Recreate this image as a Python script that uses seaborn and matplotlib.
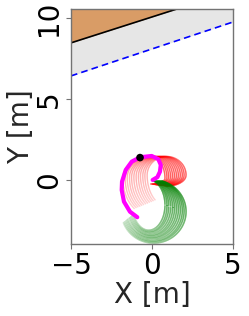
import numpy as np
import matplotlib
matplotlib.use("Agg")
import matplotlib.pyplot as plt
import seaborn as sns
import pandas as pd
from matplotlib.collections import LineCollection

# road boundaries (x at left / right edge of the plot)
edge_x = [-5.0, 5.0]
road_edge_y = [8.46, 11.66]
lane_line_y = [6.42, 9.75]

# executed path (magenta)
path_x = [0.04, 0.33, 0.49, 0.54, 0.39, -0.02, -0.74, -1.25, -1.62, -1.85, -1.87, -1.73, -1.36, -0.91]
path_y = [0.0, 0.17, 0.51, 0.93, 1.28, 1.48, 1.40, 1.13, 0.62, -0.10, -0.62, -1.34, -1.96, -2.30]
vehicle_x = [-0.74]
vehicle_y = [1.38]

# sampled trajectories turning one way (red) - quarter-ellipse parameters
red_cx = [-0.10, -0.01, 0.08, 0.17, 0.26, 0.35, 0.45, 0.54, 0.63, 0.72, 0.81, 0.90]
red_cy = [0.10, 0.12, 0.14, 0.15, 0.17, 0.19, 0.21, 0.23, 0.25, 0.26, 0.28, 0.30]
red_aL = [1.70, 1.65, 1.61, 1.56, 1.52, 1.47, 1.43, 1.38, 1.34, 1.29, 1.25, 1.20]
red_aR = [0.90, 0.93, 0.95, 0.98, 1.01, 1.04, 1.06, 1.09, 1.12, 1.15, 1.17, 1.20]
red_bT = [1.35, 1.33, 1.31, 1.30, 1.28, 1.26, 1.24, 1.22, 1.20, 1.19, 1.17, 1.15]
red_bR = [0.35, 0.38, 0.41, 0.44, 0.47, 0.50, 0.53, 0.56, 0.59, 0.62, 0.65, 0.68]
red_bL = [2.30, 2.26, 2.23, 2.19, 2.15, 2.12, 2.08, 2.05, 2.01, 1.97, 1.94, 1.90]

# sampled trajectories turning the other way (green)
green_cx = [-0.20, -0.17, -0.15, -0.12, -0.09, -0.06, -0.04, -0.01, 0.02, 0.05, 0.07, 0.10]
green_cy = [-1.55, -1.59, -1.62, -1.66, -1.70, -1.73, -1.77, -1.80, -1.84, -1.88, -1.91, -1.95]
green_a = [1.00, 1.09, 1.18, 1.27, 1.36, 1.45, 1.55, 1.64, 1.73, 1.82, 1.91, 2.00]
green_b = [1.55, 1.59, 1.62, 1.66, 1.70, 1.73, 1.77, 1.80, 1.84, 1.88, 1.91, 1.95]


def quad_ellipse(cx, cy, aL, aR, bT, bR, bL, t0, t1):
    th = np.radians(np.linspace(t0, t1, 200))
    c, s = np.cos(th), np.sin(th)
    x = cx + np.where(c > 0, aR, aL) * c
    lower = np.where(c > 0, bR, bL)
    y = cy + np.where(s > 0, bT, lower) * s
    return x, y


def fading_line(ax, x, y, color, a0, a1, lw=1.0):
    pts = np.column_stack([x, y]).reshape(-1, 1, 2)
    segs = np.concatenate([pts[:-1], pts[1:]], axis=1)
    rgba = np.tile(matplotlib.colors.to_rgba(color), (len(segs), 1))
    rgba[:, 3] = np.linspace(a0, a1, len(segs))
    ax.add_collection(LineCollection(segs, colors=rgba, linewidths=lw))


sns.set_style("ticks")
fig = plt.figure(figsize=(2.49, 3.16), dpi=100)
ax = fig.add_axes([0.285, 0.228, 0.651, 0.7435])

# road area
ax.fill_between(edge_x, lane_line_y, [14, 14], color="0.9", lw=0)
ax.fill_between(edge_x, road_edge_y, [14, 14], color="#d99c66", lw=0)
sns.lineplot(x=edge_x, y=road_edge_y, color="black", lw=1.2, ax=ax)
sns.lineplot(x=edge_x, y=lane_line_y, color="blue", lw=1.2, ax=ax, linestyle=(0, (4, 2.5)))

for i in range(len(red_cx)):
    x, y = quad_ellipse(red_cx[i], red_cy[i], red_aL[i], red_aR[i], red_bT[i],
                        red_bR[i], red_bL[i], 235, -90)
    fading_line(ax, x, y, "red", 0.18, 1.0)

for i in range(len(green_cx)):
    x, y = quad_ellipse(green_cx[i], green_cy[i], green_a[i], green_a[i], green_b[i],
                        green_b[i], green_b[i], 75, -160)
    fading_line(ax, x, y, "green", 1.0, 0.18, lw=1.1)

path = pd.DataFrame({"x": path_x, "y": path_y})
sns.lineplot(data=path, x="x", y="y", sort=False, estimator=None, color="magenta", lw=3, ax=ax)
sns.scatterplot(x=vehicle_x, y=vehicle_y, color="black", s=30, ax=ax, zorder=5, edgecolor="none")

ax.set_xlim(-5, 5)
ax.set_ylim(-3.95, 10.55)
ax.set_xticks([-5, 0, 5])
ax.set_yticks([0, 5, 10])
ax.tick_params(labelsize=20, colors="black", length=3.5, pad=2)
for lbl in ax.get_yticklabels():
    lbl.set_rotation(90)
    lbl.set_va("center")
for sp in ax.spines.values():
    sp.set_color("0.45")
    sp.set_linewidth(1.0)
ax.tick_params(color="0.45")
ax.set_xlabel("X [m]", fontsize=20, labelpad=1)
ax.set_ylabel("Y [m]", fontsize=20, labelpad=0)

fig.savefig("out.png", dpi=100)
